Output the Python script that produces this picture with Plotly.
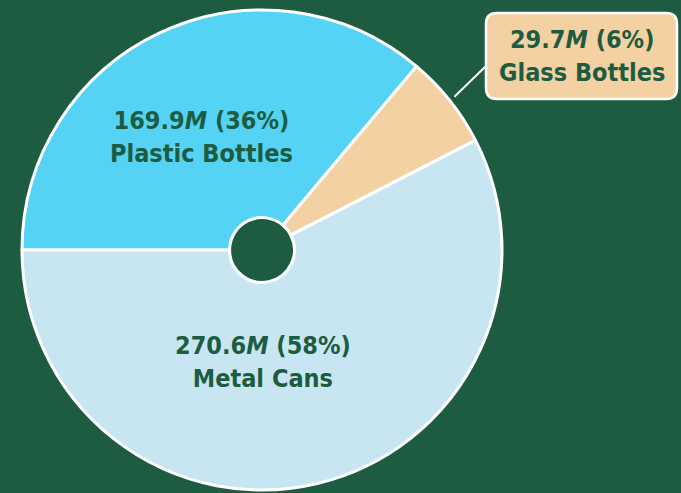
import math
import plotly.graph_objects as go

labels = ["Plastic Bottles", "Glass Bottles", "Metal Cans"]
values = [169.9, 29.7, 270.6]
colors = ["#55d3f4", "#f4d1a2", "#c8e6f2"]

BG = "#1e5c41"
TXT = "#1d5c41"
W, H = 681, 493
FONT = "DejaVu Sans Condensed"
FS = 25

total = sum(values)
pcts = [round(v / total * 100) for v in values]
texts = [f"<b>{v:.1f}<i>M</i> ({p}%)<br>{l}</b>" for v, p, l in zip(values, pcts, labels)]

fig = go.Figure(go.Pie(
    labels=labels, values=values, sort=False, direction="clockwise", rotation=270,
    hole=0.135,
    marker=dict(colors=colors, line=dict(color="white", width=3)),
    textinfo="none", hoverinfo="label+value+percent",
    domain=dict(x=[0, 524 / W], y=[3 / H, 483 / H]),
    showlegend=False,
))

def px(x):
    return x / W

def py(y):
    return 1 - y / H

# inside label placement (pixel centres)
label_pos = {"Plastic Bottles": (201, 137), "Metal Cans": (263, 362)}
for t, l in zip(texts, labels):
    if l in label_pos:
        x, y = label_pos[l]
        fig.add_annotation(xref="paper", yref="paper", x=px(x), y=py(y), text=t,
                           showarrow=False, xanchor="center", yanchor="middle",
                           font=dict(family=FONT, size=FS, color=TXT))

# leader line for glass slice, computed from its mid angle
cx, cy, R = 262, 250, 240
start = values[0] / total * 360
mid = start + values[1] / total * 360 / 2
a = math.radians(mid - 90)
sx, sy = cx + (R + 6) * math.sin(a), cy - (R + 6) * math.cos(a)

bx0, by0, bx1, by1, rr = 486, 13, 677, 99, 11
fig.add_shape(type="line", xref="paper", yref="paper",
              x0=px(sx), y0=py(sy), x1=px(bx0), y1=py(66),
              line=dict(color="white", width=2))
path = (f"M {px(bx0+rr)},{py(by0)} L {px(bx1-rr)},{py(by0)} "
        f"Q {px(bx1)},{py(by0)} {px(bx1)},{py(by0+rr)} L {px(bx1)},{py(by1-rr)} "
        f"Q {px(bx1)},{py(by1)} {px(bx1-rr)},{py(by1)} L {px(bx0+rr)},{py(by1)} "
        f"Q {px(bx0)},{py(by1)} {px(bx0)},{py(by1-rr)} L {px(bx0)},{py(by0+rr)} "
        f"Q {px(bx0)},{py(by0)} {px(bx0+rr)},{py(by0)} Z")
fig.add_shape(type="path", xref="paper", yref="paper", path=path,
              fillcolor=colors[1], line=dict(color="white", width=2.5))
fig.add_annotation(xref="paper", yref="paper", x=px((bx0 + bx1) / 2), y=py((by0 + by1) / 2),
                   text=texts[1], showarrow=False, xanchor="center", yanchor="middle",
                   font=dict(family=FONT, size=FS, color=TXT))

fig.update_layout(
    width=W, height=H, paper_bgcolor=BG, plot_bgcolor=BG,
    margin=dict(l=0, r=0, t=0, b=0),
)
fig.write_html("out.html", config={"displayModeBar": False},
               post_script="document.body.style.margin='0';document.body.style.background='" + BG + "';")
